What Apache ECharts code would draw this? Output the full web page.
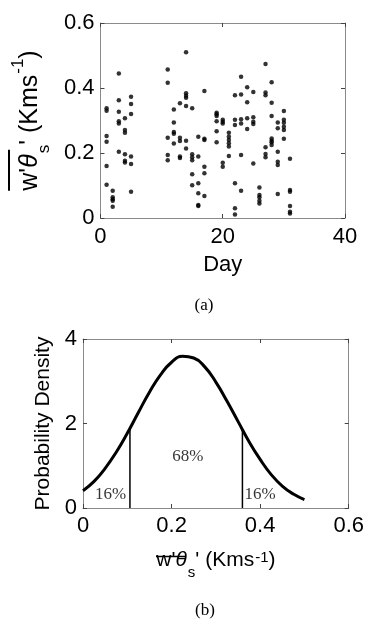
<!DOCTYPE html>
<html>
<head>
<meta charset="utf-8">
<script src="https://cdn.jsdelivr.net/npm/echarts@6/dist/echarts.min.js"></script>
<style>
html,body{margin:0;padding:0;background:#fff;}
#c{width:367px;height:619px;}
</style>
</head>
<body>
<div id="c"></div>
<script>
// ---------- Data: panel (a) ----------
const scatterDays = [1, 2, 3, 4, 5, 11, 12, 13, 14, 15, 16, 17, 19, 20, 21, 22, 23, 24, 25, 26, 27, 28, 29, 30, 31];
const scatterValues = [
  [0.338, 0.330, 0.252, 0.235, 0.160, 0.102],
  [0.084, 0.064, 0.058, 0.053, 0.035],
  [0.445, 0.362, 0.327, 0.298, 0.291, 0.204],
  [0.307, 0.271, 0.262, 0.196, 0.176, 0.171],
  [0.373, 0.351, 0.320, 0.189, 0.166, 0.081],
  [0.457, 0.416, 0.247, 0.194, 0.178],
  [0.334, 0.294, 0.265, 0.259, 0.229],
  [0.353, 0.247, 0.237, 0.189, 0.185],
  [0.510, 0.384, 0.376, 0.370, 0.345, 0.238, 0.214],
  [0.338, 0.196, 0.187, 0.178, 0.135, 0.101],
  [0.250, 0.189, 0.107, 0.076, 0.040, 0.037],
  [0.391, 0.244, 0.240, 0.158, 0.138, 0.068],
  [0.324, 0.319, 0.314, 0.298, 0.267, 0.233],
  [0.302, 0.296, 0.291, 0.170, 0.158],
  [0.262, 0.250, 0.240, 0.230, 0.220, 0.191],
  [0.378, 0.302, 0.286, 0.107, 0.030, 0.011],
  [0.435, 0.380, 0.304, 0.291, 0.194, 0.084],
  [0.402, 0.356, 0.307, 0.274],
  [0.388, 0.310, 0.296, 0.289, 0.168],
  [0.094, 0.071, 0.064, 0.053, 0.045],
  [0.474, 0.386, 0.378, 0.218, 0.197, 0.187],
  [0.418, 0.355, 0.314, 0.245, 0.238, 0.233, 0.225],
  [0.294, 0.276, 0.204, 0.173, 0.163, 0.074],
  [0.329, 0.302, 0.293, 0.281, 0.271, 0.244],
  [0.182, 0.086, 0.081, 0.037, 0.019, 0.014]
];
const dayTicks = [0, 20, 40];
const fluxTicksA = [0, 0.2, 0.4, 0.6];

// ---------- Data: panel (b) ----------
const curveX = [0, 0.025, 0.05, 0.075, 0.1, 0.125, 0.15, 0.175, 0.2, 0.225, 0.25, 0.275, 0.3, 0.325, 0.35, 0.375, 0.4, 0.425, 0.45, 0.475, 0.5];
const curveY = [0.41, 0.63, 0.94, 1.32, 1.77, 2.26, 2.74, 3.15, 3.45, 3.59, 3.55, 3.34, 2.98, 2.53, 2.05, 1.57, 1.15, 0.79, 0.52, 0.33, 0.20];
const cutX = [0.106, 0.360];
const cutY = [1.88, 1.86];
const pctLabels = ['16%', '68%', '16%'];
const pctX = [0.062, 0.237, 0.400];
const pctY = [0.31, 1.21, 0.31];
const fluxTicksB = [0, 0.2, 0.4, 0.6];
const densityTicks = [0, 2, 4];

// ---------- Styling ----------
const SANS = '"Liberation Sans", Arial, sans-serif';
const SERIF = '"Liberation Serif", "Times New Roman", serif';
const FRAME = '#8a8a8a';
const TICK = '#444';
const TICK_FONT = 22;

function boxAxis(extra) {
  return Object.assign({
    type: 'value',
    axisLine: { show: true, onZero: false, lineStyle: { color: FRAME, width: 1 } },
    axisTick: { show: true, inside: true, length: 4, lineStyle: { color: TICK, width: 1 } },
    splitLine: { show: false },
    axisLabel: { show: true, color: '#000', fontFamily: SANS, fontSize: TICK_FONT, margin: 6 }
  }, extra);
}
function hiddenLabels(a) { a.axisLabel = { show: false }; return a; }

const scatterData = [];
scatterDays.forEach((d, i) => scatterValues[i].forEach(v => scatterData.push([d, v])));
const curveData = curveX.map((x, i) => [x, curveY[i]]);
const pctData = pctLabels.map((t, i) => [pctX[i], pctY[i], t]);

const richMain = { fontFamily: SANS, fontSize: 25, color: '#000', verticalAlign: 'top', lineHeight: 29, padding: [8, 0, 0, 0] };
const richB = { fontFamily: SANS, fontSize: 21, color: '#000', verticalAlign: 'top', lineHeight: 24, padding: [0, 0, 0, 0] };

const chart = echarts.init(document.getElementById('c'));
chart.setOption({
  animation: false,
  backgroundColor: '#fff',
  grid: [
    { left: 92, right: 22, top: 23, height: 195 },
    { left: 83, right: 14, top: 339, height: 169 }
  ],
  xAxis: [
    boxAxis({ gridIndex: 0, position: 'bottom', min: dayTicks[0], max: dayTicks[dayTicks.length - 1], interval: dayTicks[1] - dayTicks[0],
      axisLabel: { color: '#000', fontFamily: SANS, fontSize: TICK_FONT, margin: 8 },
      name: 'Day', nameLocation: 'middle', nameGap: 36,
      nameTextStyle: { fontFamily: SANS, fontSize: 22, color: '#000' } }),
    hiddenLabels(boxAxis({ gridIndex: 0, position: 'top', min: dayTicks[0], max: dayTicks[dayTicks.length - 1], interval: dayTicks[1] - dayTicks[0] })),
    boxAxis({ gridIndex: 1, position: 'bottom', min: fluxTicksB[0], max: fluxTicksB[fluxTicksB.length - 1], interval: fluxTicksB[1] - fluxTicksB[0],
      axisLabel: { color: '#000', fontFamily: SANS, fontSize: TICK_FONT, margin: 7 },
      name: "{m|w'}{th|θ}{sub|s}{m|' (Kms}{sup|-1}{m|)}", nameLocation: 'middle', nameGap: 42,
      nameTextStyle: { fontFamily: SANS, fontSize: 21, color: '#000', rich: {
        m: richB,
        th: Object.assign({}, richB, { fontStyle: 'italic' }),
        sub: { fontFamily: SANS, fontSize: 15, color: '#000', verticalAlign: 'top', lineHeight: 15, padding: [15, 0, 0, 1] },
        sup: { fontFamily: SANS, fontSize: 15, color: '#000', verticalAlign: 'top', lineHeight: 15, padding: [0, 0, 0, 1] }
      } } }),
    hiddenLabels(boxAxis({ gridIndex: 1, position: 'top', min: fluxTicksB[0], max: fluxTicksB[fluxTicksB.length - 1], interval: fluxTicksB[1] - fluxTicksB[0] }))
  ],
  yAxis: [
    boxAxis({ gridIndex: 0, position: 'left', min: fluxTicksA[0], max: fluxTicksA[fluxTicksA.length - 1], interval: fluxTicksA[1] - fluxTicksA[0],
      name: "{ol| }\n{m|w'}{th|θ}{sub|s}{m|' (Kms}{sup|-1}{m|)}", nameLocation: 'middle', nameRotate: 90, nameGap: 34,
      nameTextStyle: { fontFamily: SANS, fontSize: 25, color: '#000', rich: {
        ol: { width: 41, height: 2, lineHeight: 2, fontSize: 1, backgroundColor: '#000', align: 'left' },
        m: richMain,
        th: Object.assign({}, richMain, { fontStyle: 'italic' }),
        sub: { fontFamily: SANS, fontSize: 17, color: '#000', verticalAlign: 'top', lineHeight: 17, padding: [26, 0, 0, 1] },
        sup: { fontFamily: SANS, fontSize: 17, color: '#000', verticalAlign: 'top', lineHeight: 17, padding: [0, 0, 0, 1] }
      } } }),
    hiddenLabels(boxAxis({ gridIndex: 0, position: 'right', min: fluxTicksA[0], max: fluxTicksA[fluxTicksA.length - 1], interval: fluxTicksA[1] - fluxTicksA[0] })),
    boxAxis({ gridIndex: 1, position: 'left', min: densityTicks[0], max: densityTicks[densityTicks.length - 1], interval: densityTicks[1] - densityTicks[0],
      axisLabel: { color: '#000', fontFamily: SANS, fontSize: TICK_FONT, margin: 6 },
      name: 'Probability Density', nameLocation: 'middle', nameRotate: 90, nameGap: 21,
      nameTextStyle: { fontFamily: SANS, fontSize: 21, color: '#000' } }),
    hiddenLabels(boxAxis({ gridIndex: 1, position: 'right', min: densityTicks[0], max: densityTicks[densityTicks.length - 1], interval: densityTicks[1] - densityTicks[0] }))
  ],
  series: [
    { type: 'scatter', xAxisIndex: 0, yAxisIndex: 0, data: scatterData, symbol: 'circle', symbolSize: 4.5,
      itemStyle: { color: '#000' } },
    { type: 'line', xAxisIndex: 2, yAxisIndex: 2, data: curveData, smooth: true, showSymbol: false,
      lineStyle: { color: '#000', width: 3 } },
    { type: 'line', xAxisIndex: 2, yAxisIndex: 2, data: [[cutX[0], 0], [cutX[0], cutY[0]]], showSymbol: false,
      lineStyle: { color: '#000', width: 1.5 } },
    { type: 'line', xAxisIndex: 2, yAxisIndex: 2, data: [[cutX[1], 0], [cutX[1], cutY[1]]], showSymbol: false,
      lineStyle: { color: '#000', width: 1.5 } },
    { type: 'scatter', xAxisIndex: 2, yAxisIndex: 2, data: pctData, symbolSize: 0,
      label: { show: true, position: 'inside', formatter: p => p.data[2], fontFamily: SERIF, fontSize: 17, color: '#000' } }
  ],
  graphic: [
    { type: 'line', shape: { x1: 156, y1: 556.5, x2: 186, y2: 556.5 }, style: { stroke: '#000', lineWidth: 1.5 } },
    { type: 'text', x: 204, y: 306, style: { text: '(a)', fontFamily: SERIF, fontSize: 17, fill: '#000', align: 'center', verticalAlign: 'middle' } },
    { type: 'text', x: 205, y: 611, style: { text: '(b)', fontFamily: SERIF, fontSize: 17, fill: '#000', align: 'center', verticalAlign: 'middle' } }
  ]
});
</script>
</body>
</html>
